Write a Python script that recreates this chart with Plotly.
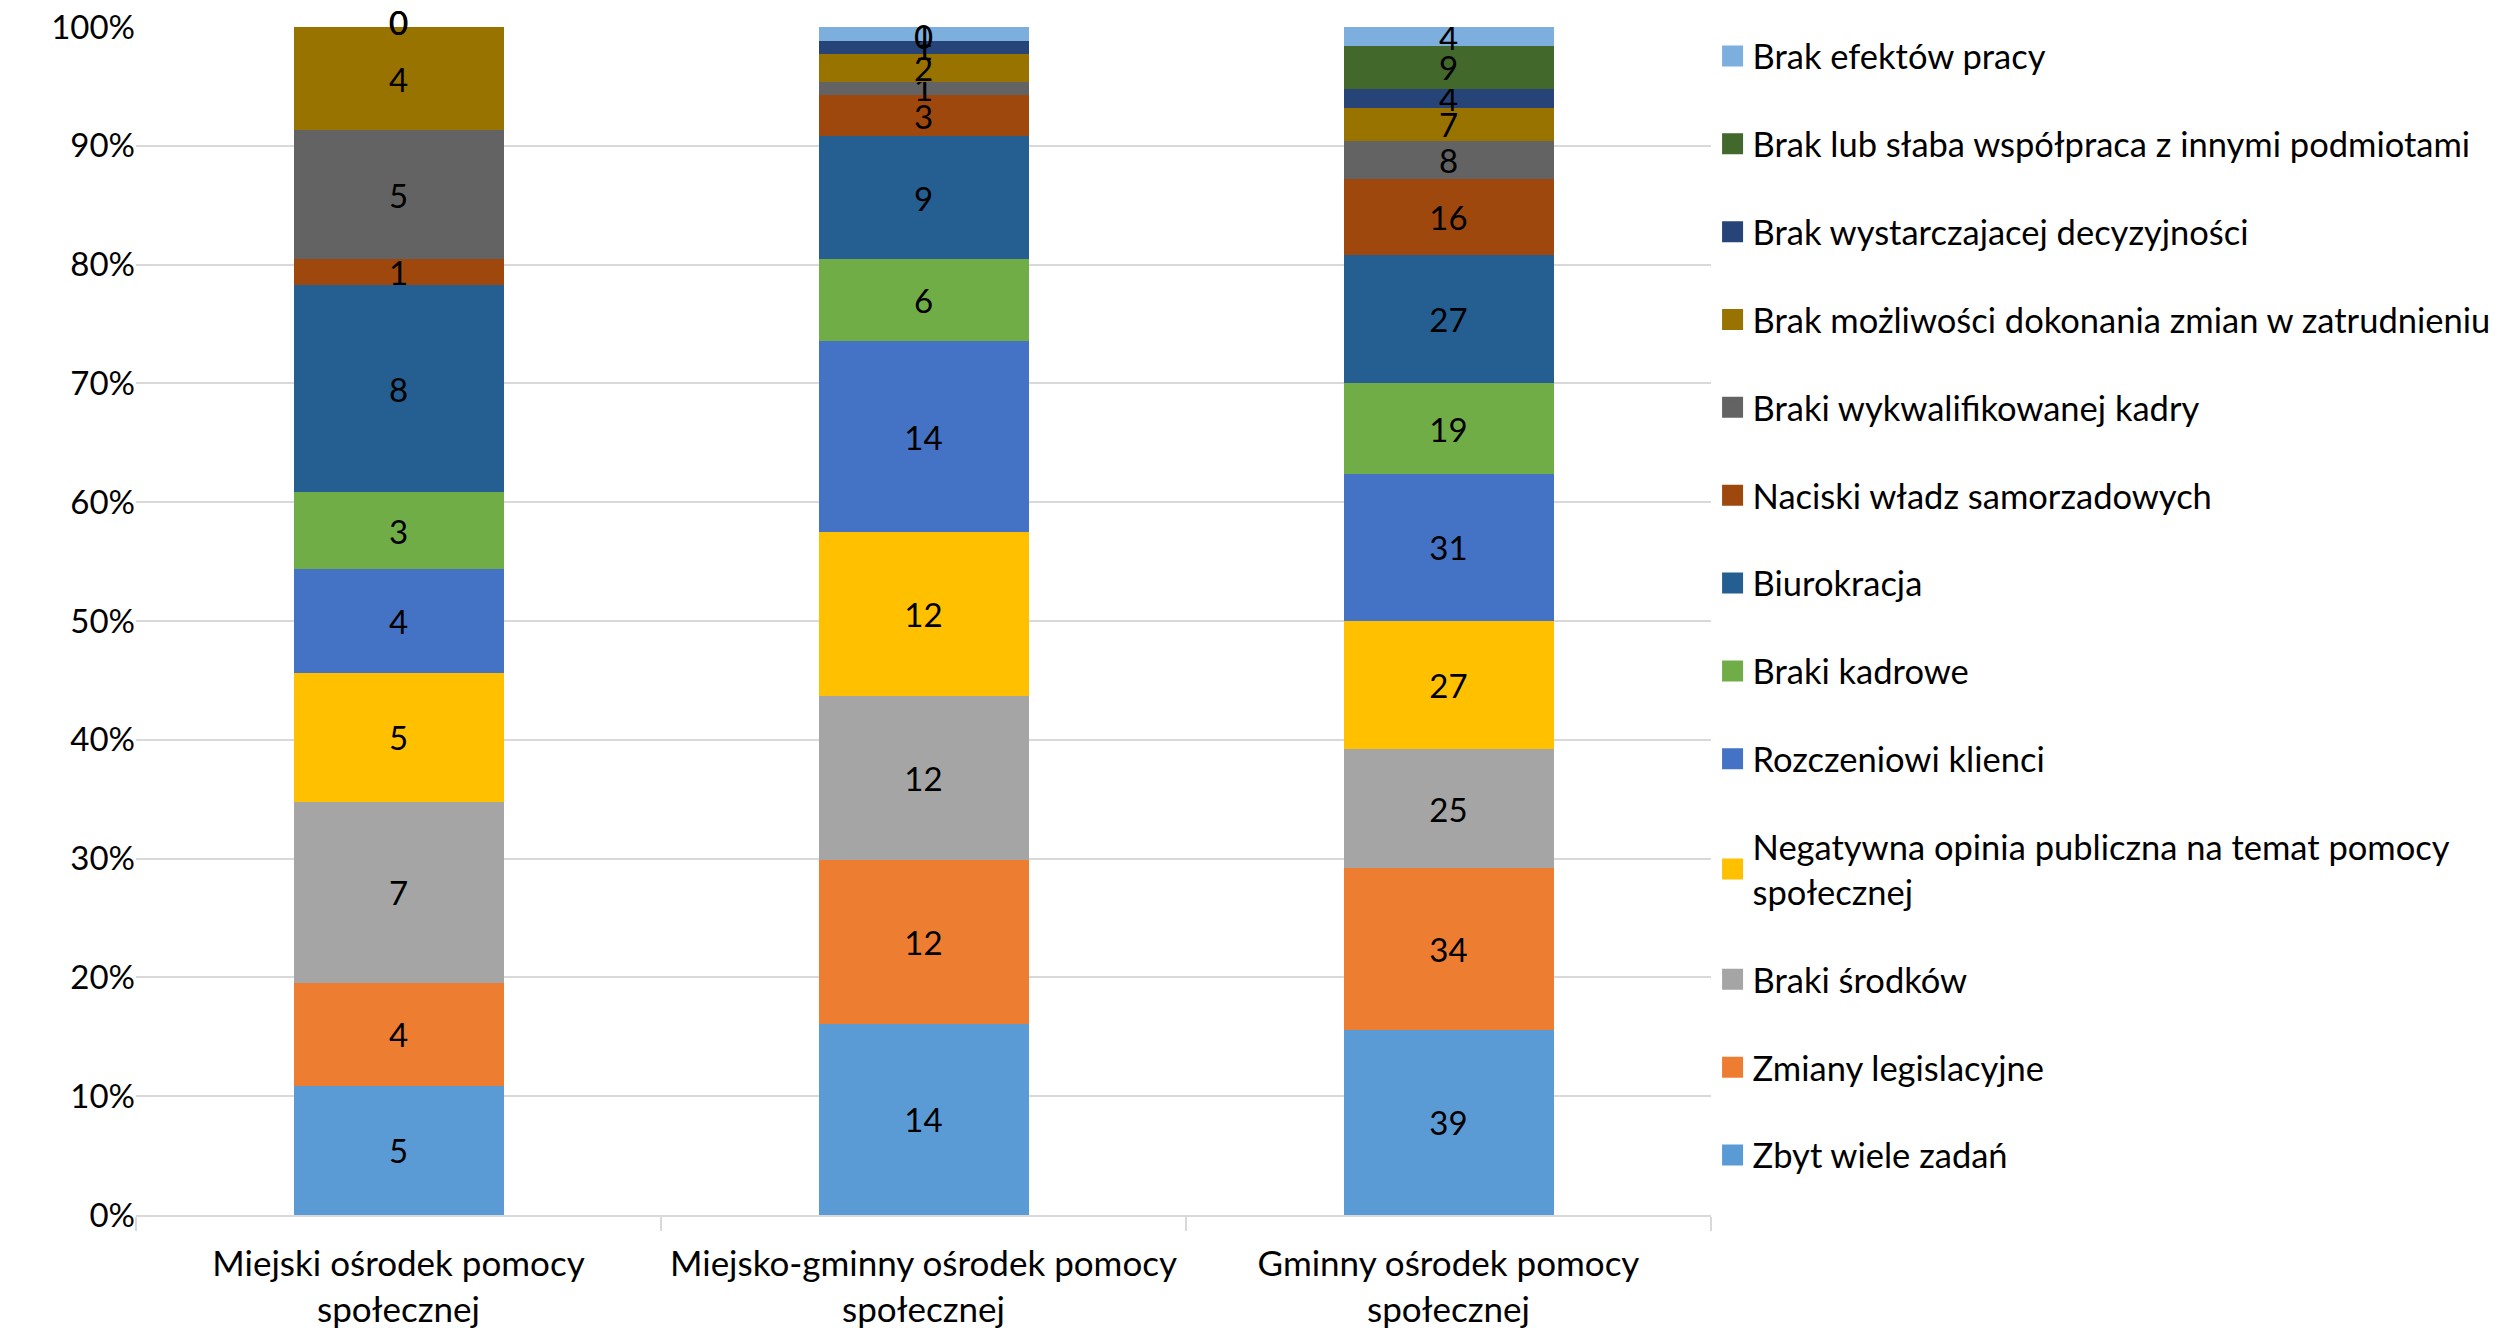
import plotly.graph_objects as go

categories = [
    "Miejski ośrodek pomocy<br>społecznej",
    "Miejsko-gminny ośrodek pomocy<br>społecznej",
    "Gminny ośrodek pomocy<br>społecznej",
]

# Series values (bottom of stack to top), one value per category
zbyt_wiele_zadan = [5, 14, 39]
zmiany_legislacyjne = [4, 12, 34]
braki_srodkow = [7, 12, 25]
negatywna_opinia = [5, 12, 27]
roszczeniowi_klienci = [4, 14, 31]
braki_kadrowe = [3, 6, 19]
biurokracja = [8, 9, 27]
naciski_wladz = [1, 3, 16]
braki_wykwalifikowanej_kadry = [5, 1, 8]
brak_mozliwosci_zmian = [4, 2, 7]
brak_decyzyjnosci = [0, 1, 4]
brak_wspolpracy = [0, 0, 9]
brak_efektow = [0, 1, 4]

series = [
    ("Zbyt wiele zadań", zbyt_wiele_zadan, "#5B9BD5"),
    ("Zmiany legislacyjne", zmiany_legislacyjne, "#ED7D31"),
    ("Braki środków", braki_srodkow, "#A5A5A5"),
    ("Negatywna opinia publiczna na temat pomocy<br>społecznej", negatywna_opinia, "#FFC000"),
    ("Rozczeniowi klienci", roszczeniowi_klienci, "#4472C4"),
    ("Braki kadrowe", braki_kadrowe, "#70AD47"),
    ("Biurokracja", biurokracja, "#255E91"),
    ("Naciski władz samorzadowych", naciski_wladz, "#9E480E"),
    ("Braki wykwalifikowanej kadry", braki_wykwalifikowanej_kadry, "#636363"),
    ("Brak możliwości dokonania zmian w zatrudnieniu", brak_mozliwosci_zmian, "#997300"),
    ("Brak wystarczajacej decyzyjności", brak_decyzyjnosci, "#264478"),
    ("Brak lub słaba współpraca z innymi podmiotami", brak_wspolpracy, "#43682B"),
    ("Brak efektów pracy", brak_efektow, "#7CAFDD"),
]

FONT = "Lato"
LABEL_SIZE = 33
N = len(series)

fig = go.Figure()
for i, (name, vals, color) in enumerate(series):
    fig.add_trace(go.Bar(
        x=categories, y=vals, name=name, showlegend=False,
        marker=dict(color=color, line=dict(width=0)),
        text=[str(v) if v else "" for v in vals],
        textposition="inside", textangle=0, constraintext="none",
        insidetextanchor="middle",
        textfont=dict(color="black", size=LABEL_SIZE, family=FONT),
    ))

# legend entries (square swatches), listed top-down in reverse stacking order
for i, (name, vals, color) in enumerate(series):
    fig.add_trace(go.Scatter(
        x=[None], y=[None], mode="markers", name=name,
        legendgroup=f"g{i}", legendrank=N - i,
        marker=dict(symbol="square", size=16, color=color, line=dict(color=color, width=5)),
        hoverinfo="skip",
    ))

# labels for zero-valued segments (drawn at their stack position)
totals = [sum(s[1][j] for s in series) for j in range(len(categories))]
zx, zy = [], []
for j in range(len(categories)):
    cum = 0
    for name, vals, color in series:
        if vals[j] == 0:
            zx.append(categories[j])
            zy.append(cum / totals[j] * 100)
        cum += vals[j]
fig.add_trace(go.Scatter(
    x=zx, y=zy, mode="text", text=["0"] * len(zx), showlegend=False,
    textfont=dict(color="black", size=LABEL_SIZE, family=FONT), hoverinfo="skip",
    cliponaxis=False,
))

# page body adds an 8px offset, so the figure is sized 8px smaller
fig.update_layout(
    width=2495, height=1320,
    barmode="stack", barnorm="percent", bargap=0.6,
    paper_bgcolor="white", plot_bgcolor="white",
    margin=dict(l=128, r=792, t=19, b=113, autoexpand=False),
    font=dict(family=FONT, size=33, color="black"),
    legend=dict(
        traceorder="grouped", x=1.001, xanchor="left", y=1.0, yanchor="top",
        font=dict(size=34.5, family=FONT, color="black"),
        tracegroupgap=40, itemwidth=30, itemsizing="trace",
        bgcolor="rgba(0,0,0,0)",
    ),
    showlegend=True,
)
fig.update_yaxes(
    range=[0, 100], dtick=10, ticksuffix="%",
    showgrid=True, gridcolor="#D9D9D9", gridwidth=2,
    zeroline=False, showline=False, automargin=False,
    ticklabeloverflow="allow",
    tickfont=dict(size=33, family=FONT, color="black"),
)
fig.update_xaxes(
    showline=True, linecolor="#D9D9D9", linewidth=2, automargin=False,
    ticks="outside", tickson="boundaries", ticklen=14, tickcolor="#D9D9D9", tickwidth=2,
    tickfont=dict(size=35, family=FONT, color="black"),
    ticklabelstandoff=17,
)

fig.write_html("out.html")
